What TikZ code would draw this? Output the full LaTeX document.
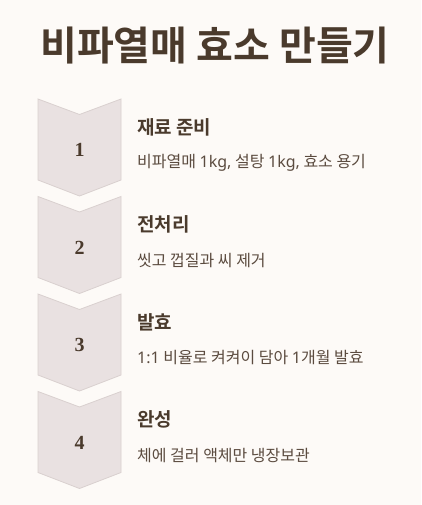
\documentclass[tikz,border=0pt]{standalone}
\usepackage{fontspec}
\newfontfamily\kr{Noto Sans CJK KR}
\newfontfamily\krb{Noto Sans CJK KR Bold}
\newfontfamily\lat{Noto Sans}
\newfontfamily\numfont{Liberation Serif}
\definecolor{bg}{HTML}{FDFAF7}
\definecolor{ink}{HTML}{4A3A2C}
\definecolor{desc}{HTML}{5B4B3F}
\definecolor{chfill}{HTML}{E9E1E1}
\definecolor{chdraw}{HTML}{D9D0CF}
\newcommand{\lt}[1]{{\lat #1}}
\tikzset{
  chev/.style={fill=chfill,draw=chdraw,line width=0.8pt,line join=miter},
  num/.style={font=\numfont\bfseries\fontsize{20}{20}\selectfont,text=ink,anchor=center},
  sttl/.style={font=\krb\fontsize{19}{20}\selectfont,text=ink,anchor=west,inner sep=0},
  sdesc/.style={font=\kr\fontsize{16}{17}\selectfont,text=desc,anchor=west,inner sep=0},
}
\begin{document}
\begin{tikzpicture}[x=1pt,y=-1pt]
\fill[bg] (0,0) rectangle (421,505);
\useasboundingbox (0,0) rectangle (421,505);
\node[font=\krb\fontsize{40}{44}\selectfont,text=ink,anchor=center,inner sep=0] (title) at (215,46) {비파열매 효소 만들기};
\foreach \i/\t/\d in {1/재료 준비/{비파열매 \lt{1kg,} 설탕 \lt{1kg,} 효소 용기},2/전처리/{씻고 껍질과 씨 제거},3/발효/{\lt{1:1} 비율로 켜켜이 담아 \lt{1}개월 발효},4/완성/{체에 걸러 액체만 냉장보관}}{
  \pgfmathsetmacro{\tp}{99+97.5*(\i-1)}
  \draw[chev] (38,\tp) -- (79.5,\tp+15.5) -- (121,\tp) -- (121,\tp+81) -- (79.5,\tp+97) -- (38,\tp+81) -- cycle;
  \node[num] (n\i) at (79.5,\tp+51) {\i};
  \node[sttl] (t\i) at (137,\tp+28) {\t};
  \node[sdesc] (d\i) at (137,\tp+64) {\d};
}
\end{tikzpicture}
\end{document}
